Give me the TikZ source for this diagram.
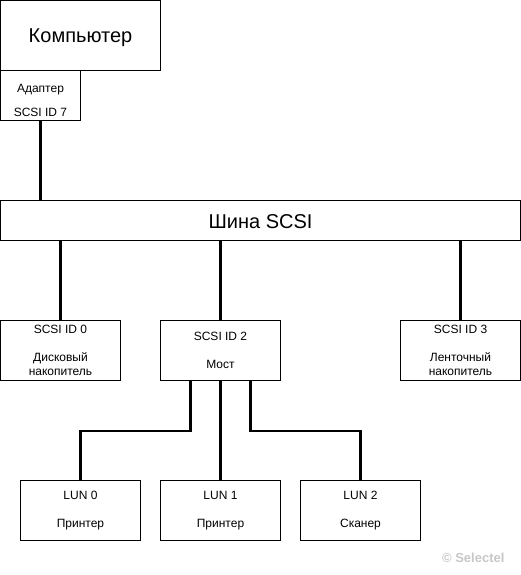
\documentclass[tikz,border=0pt]{standalone}
\usepackage{fontspec}
\setmainfont{Liberation Sans}
\newcommand{\lowerby}[2]{\raisebox{-#1}[\height][\depth]{#2}}
\begin{document}
\begin{tikzpicture}[x=1pt,y=-1pt,
  box/.style={draw=black,line width=1pt,fill=white,inner sep=0pt,align=center,
    font=\fontsize{12}{14}\selectfont},
  bigbox/.style={box,font=\fontsize{20}{24}\selectfont},
  wire/.style={line width=2.5pt,draw=black}]
\useasboundingbox (0,0) rectangle (521,575);

\node[bigbox,minimum width=160pt,minimum height=70pt] (comp) at (80.5,35.5) {\lowerby{2.5pt}{Компьютер}};
\node[box,minimum width=80pt,minimum height=50pt,font=\fontsize{12}{12}\selectfont] (adapter) at (40.5,95.5) {\lowerby{5pt}{\shortstack{Адаптер\\[10pt]SCSI ID 7}}};
\node[bigbox,minimum width=520pt,minimum height=40pt] (bus) at (260.5,220.5) {\lowerby{1pt}{Шина SCSI}};

\node[box,minimum width=120pt,minimum height=60pt] (id0) at (60.5,350.5) {SCSI ID 0\\[14pt]Дисковый\\накопитель};
\node[box,minimum width=120pt,minimum height=60pt] (bridge) at (220.5,350.5) {SCSI ID 2\\[14pt]Мост};
\node[box,minimum width=120pt,minimum height=60pt] (id3) at (460.5,350.5) {SCSI ID 3\\[14pt]Ленточный\\накопитель};

\node[box,minimum width=120pt,minimum height=60pt] (lun0) at (80.5,510.5) {LUN 0\\[14pt]Принтер};
\node[box,minimum width=120pt,minimum height=60pt] (lun1) at (220.5,510.5) {LUN 1\\[14pt]Принтер};
\node[box,minimum width=120pt,minimum height=60pt] (lun2) at (360.5,510.5) {LUN 2\\[14pt]Сканер};

\draw[wire] (adapter.south) -- (adapter.south |- bus.north);
\draw[wire] (id0.north |- bus.south) -- (id0.north);
\draw[wire] (bridge.north |- bus.south) -- (bridge.north);
\draw[wire] (id3.north |- bus.south) -- (id3.north);

\draw[wire] ([xshift=-30pt]bridge.south) -- ++(0,50) -| (lun0.north);
\draw[wire] (bridge.south) -- (lun1.north);
\draw[wire] ([xshift=30pt]bridge.south) -- ++(0,50) -| (lun2.north);

\node[text=black!22,font=\fontsize{13}{13}\selectfont\bfseries,anchor=east] (wm) at (508,558) {\textcopyright\ Selectel};
\end{tikzpicture}
\end{document}
